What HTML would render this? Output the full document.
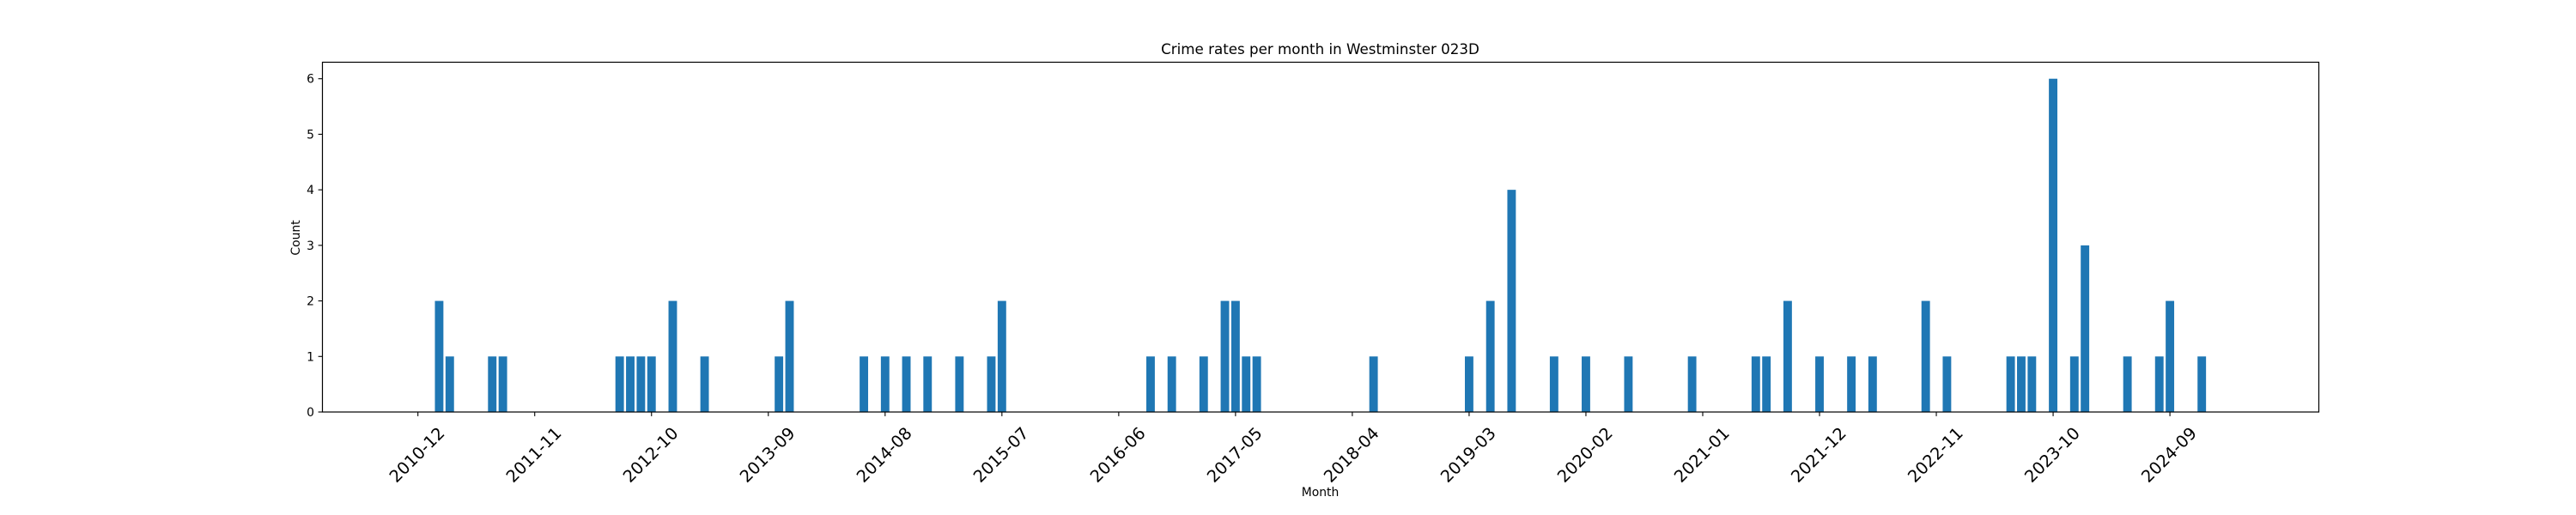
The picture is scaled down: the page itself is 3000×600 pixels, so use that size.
<!DOCTYPE html>
<html><head><meta charset="utf-8"><style>
html,body{margin:0;padding:0;background:#fff}
svg{display:block;font-family:"DejaVu Sans","Liberation Sans",sans-serif}
</style></head><body>
<svg id="chart" width="3000" height="600" viewBox="0 0 3000 600" xmlns="http://www.w3.org/2000/svg">
<rect width="3000" height="600" fill="#fff"/>
<text x="1537.5" y="63" text-anchor="middle" font-size="16.7" fill="#000">Crime rates per month in Westminster 023D</text>
<g id="bars"></g>
<g id="xaxis"></g>
<g id="yaxis"></g>
<rect x="375.5" y="72.5" width="2325" height="407.5" fill="none" stroke="#000" stroke-width="1.2"/>
<text x="1537.5" y="578" text-anchor="middle" font-size="13.9" fill="#000">Month</text>
<text x="0" y="0" transform="translate(349,277) rotate(-90)" text-anchor="middle" font-size="13.9" fill="#000">Count</text>
</svg>
<script>
const months = ["2011-02","2011-03","2011-07","2011-08","2012-07","2012-08","2012-09","2012-10","2012-12","2013-03","2013-10","2013-11","2014-06","2014-08","2014-10","2014-12","2015-03","2015-06","2015-07","2016-09","2016-11","2017-02","2017-04","2017-05","2017-06","2017-07","2018-06","2019-03","2019-05","2019-07","2019-11","2020-02","2020-06","2020-12","2021-06","2021-07","2021-09","2021-12","2022-03","2022-05","2022-10","2022-12","2023-06","2023-07","2023-08","2023-10","2023-12","2024-01","2024-05","2024-08","2024-09","2024-12"];
const counts = [2,1,1,1,1,1,1,1,2,1,1,2,1,1,1,1,1,1,2,1,1,1,2,2,1,1,1,1,2,4,1,1,1,1,1,1,2,1,1,1,2,1,1,1,1,6,1,3,1,1,2,1];
const xTickLabels = ["2010-12","2011-11","2012-10","2013-09","2014-08","2015-07","2016-06","2017-05","2018-04","2019-03","2020-02","2021-01","2021-12","2022-11","2023-10","2024-09"];
const yTickLabels = [0,1,2,3,4,5,6];

const NS = "http://www.w3.org/2000/svg";
function mIdx(s){const p=s.split("-");return (+p[0])*12+(+p[1]-1);}
const base = mIdx("2010-12");
const pxPerMonth = 12.366;
function xScale(s){return 486.7 + (mIdx(s)-base)*pxPerMonth;}
const yMax = 6.3, yTop = 72.3, yBot = 480;
function yScale(v){return yBot - v/yMax*(yBot-yTop);}

const barsG = document.getElementById("bars");
months.forEach((m,i)=>{
  const r=document.createElementNS(NS,"rect");
  const w=0.8*pxPerMonth;
  r.setAttribute("x",xScale(m)-w/2);
  r.setAttribute("y",yScale(counts[i]));
  r.setAttribute("width",w);
  r.setAttribute("height",yBot-yScale(counts[i]));
  r.setAttribute("fill","#1f77b4");
  
  
  barsG.appendChild(r);
});

const xg = document.getElementById("xaxis");
xTickLabels.forEach(l=>{
  const x=xScale(l);
  const t=document.createElementNS(NS,"line");
  t.setAttribute("x1",x);t.setAttribute("x2",x);t.setAttribute("y1",yBot);t.setAttribute("y2",yBot+4.9);
  t.setAttribute("stroke","#000");t.setAttribute("stroke-width","1.1");
  
  
  xg.appendChild(t);
  const tx=document.createElementNS(NS,"text");
  tx.setAttribute("x",0);tx.setAttribute("y",0);
  tx.setAttribute("transform","translate("+(x-1)+",530) rotate(-45)");
  tx.setAttribute("text-anchor","middle");
  tx.setAttribute("dominant-baseline","central");
  tx.setAttribute("font-size","19.4");
  tx.textContent=l;
  
  
  xg.appendChild(tx);
});

const yg = document.getElementById("yaxis");
yTickLabels.forEach(v=>{
  const y=yScale(v);
  const t=document.createElementNS(NS,"line");
  t.setAttribute("x1",375.5-4.9);t.setAttribute("x2",375.5);t.setAttribute("y1",y);t.setAttribute("y2",y);
  t.setAttribute("stroke","#000");t.setAttribute("stroke-width","1.1");
  
  
  yg.appendChild(t);
  const tx=document.createElementNS(NS,"text");
  tx.setAttribute("x",366);tx.setAttribute("y",y+5);
  tx.setAttribute("text-anchor","end");
  tx.setAttribute("font-size","13.9");
  tx.textContent=v;
  
  
  yg.appendChild(tx);
});
</script>
</body></html>
